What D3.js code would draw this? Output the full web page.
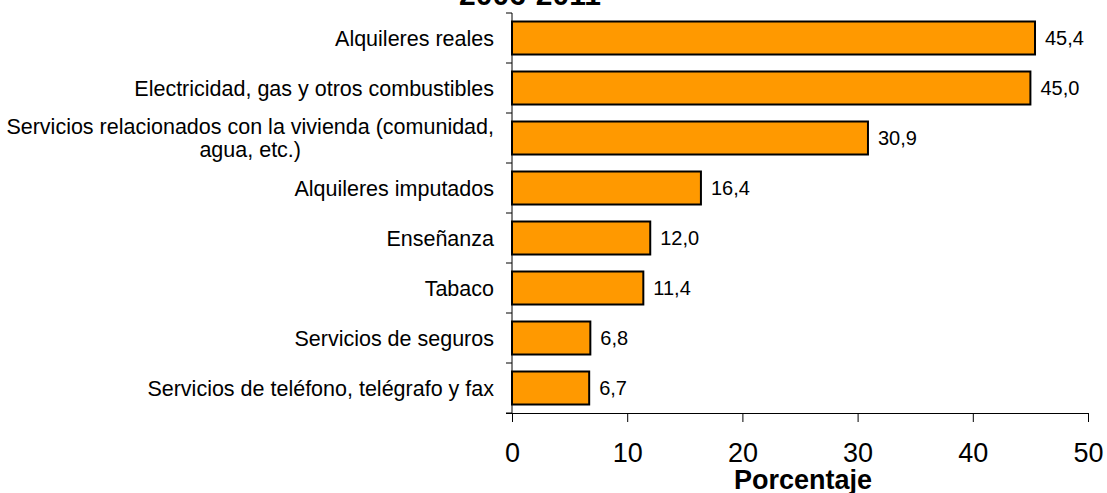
<!DOCTYPE html>
<html>
<head>
<meta charset="utf-8">
<script src="https://cdn.jsdelivr.net/npm/d3@7"></script>
<style>
  body { margin: 0; background: #fff; }
  text { font-family: "Liberation Sans", Arial, sans-serif; fill: #000; }
</style>
</head>
<body>
<div id="chart"></div>
<script>
const categories = [
    "Alquileres reales",
    "Electricidad, gas y otros combustibles",
    "Servicios relacionados con la vivienda (comunidad,|agua, etc.)",
    "Alquileres imputados",
    "Enseñanza",
    "Tabaco",
    "Servicios de seguros",
    "Servicios de teléfono, telégrafo y fax"
];
const values = [45.4, 45.0, 30.9, 16.4, 12.0, 11.4, 6.8, 6.7];
const xTicks = [0, 10, 20, 30, 40, 50];
const title = "2006-2011";
const xTitle = "Porcentaje";

const W = 1107, H = 493;
const plot = {left: 512, right: 1088, top: 13, bottom: 413};

const svg = d3.select("#chart").append("svg")
    .attr("width", W)
    .attr("height", H);

const x = d3.scaleLinear().domain([0, 50]).range([plot.left, plot.right]);
const y = d3.scaleBand()
    .domain(d3.range(categories.length))
    .range([plot.top, plot.bottom])
    .paddingInner(0.34)
    .paddingOuter(0.17);

// bars
svg.selectAll("rect.bar")
    .data(values)
    .join("rect")
    .attr("class", "bar")
    .attr("x", x(0))
    .attr("y", (d, i) => y(i))
    .attr("width", d => x(d) - x(0))
    .attr("height", y.bandwidth())
    .attr("fill", "#ff9900")
    .attr("stroke", "#000")
    .attr("stroke-width", 2);

// value labels
const fmt = d => d.toFixed(1).replace(".", ",");
svg.selectAll("text.val")
    .data(values)
    .join("text")
    .attr("class", "val")
    .attr("x", d => x(d) + 10)
    .attr("y", (d, i) => y(i) + y.bandwidth() / 2)
    .attr("dy", "0.35em")
    .attr("font-size", 20)
    .text(fmt);

// y axis line + ticks at band boundaries
const step = (plot.bottom - plot.top) / categories.length;
svg.append("line")
    .attr("x1", plot.left).attr("x2", plot.left)
    .attr("y1", plot.top).attr("y2", plot.bottom)
    .attr("stroke", "#000");
svg.selectAll("line.ytick")
    .data(d3.range(categories.length + 1))
    .join("line")
    .attr("class", "ytick")
    .attr("x1", plot.left - 6).attr("x2", plot.left)
    .attr("y1", i => plot.top + i * step)
    .attr("y2", i => plot.top + i * step)
    .attr("stroke", "#000");

// category labels
categories.forEach((c, i) => {
    const lines = c.split("|");
    const cy = y(i) + y.bandwidth() / 2;
    const g = svg.append("g");
    const lh = 23;
    const texts = lines.map((l, j) => g.append("text")
        .attr("font-size", 21.5)
        .attr("y", cy + (j - (lines.length - 1) / 2) * lh)
        .attr("dy", "0.35em")
        .text(l));
    const widths = texts.map(t => t.node().getComputedTextLength());
    const maxW = d3.max(widths);
    const right = plot.left - 18;
    texts.forEach(t => {
        t.attr("x", right - maxW / 2).attr("text-anchor", "middle");
    });
});

// x axis
const xAxis = svg.append("g")
    .attr("transform", `translate(0,${plot.bottom})`)
    .call(d3.axisBottom(x).tickValues(xTicks).tickSize(9).tickPadding(21).tickFormat(d3.format("d")));
xAxis.select(".domain").attr("stroke", "#000").attr("d", `M${plot.left - 6},0.5H${plot.right}`);
xAxis.selectAll(".tick line").attr("stroke", "#000");
xAxis.selectAll(".tick text")
    .attr("font-size", 27)
    .attr("font-family", "Liberation Sans, Arial, sans-serif")
    .attr("fill", "#000");

svg.append("text")
    .attr("x", 803)
    .attr("y", 489)
    .attr("text-anchor", "middle")
    .attr("font-size", 27)
    .attr("font-weight", "bold")
    .text(xTitle);

svg.append("text")
    .attr("x", 530)
    .attr("y", 5)
    .attr("text-anchor", "middle")
    .attr("font-size", 30)
    .attr("font-weight", "bold")
    .text(title);
</script>
</body>
</html>
